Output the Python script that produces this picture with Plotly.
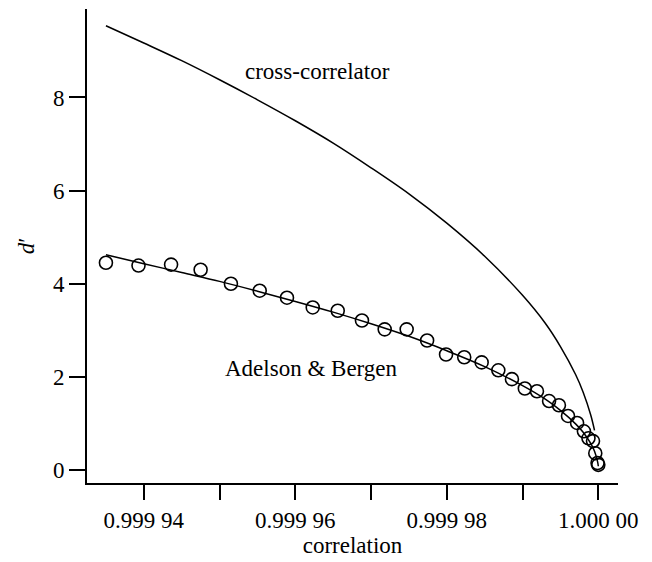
import plotly.graph_objects as go

# cross-correlator curve
cc_r = [0.999935, 0.99994, 0.999945, 0.99995, 0.999955, 0.99996, 0.999965, 0.99997,
        0.999975, 0.99998, 0.999985, 0.99999, 0.999993, 0.999995, 0.999997, 0.999998,
        0.999999, 0.9999995]
cc_d = [9.54, 9.17, 8.79, 8.38, 7.95, 7.50, 7.02, 6.49,
        5.93, 5.30, 4.59, 3.75, 3.15, 2.65, 2.05, 1.67,
        1.18, 0.85]

# Adelson & Bergen fitted curve
ab_r = [0.999935, 0.99994, 0.999945, 0.99995, 0.999955, 0.99996, 0.999965, 0.99997,
        0.999975, 0.99998, 0.999985, 0.99999, 0.999993, 0.999995, 0.999997, 0.999998,
        0.999999, 0.9999995, 0.9999999, 1.0]
ab_d = [4.62, 4.43, 4.24, 4.05, 3.84, 3.62, 3.39, 3.14,
        2.87, 2.56, 2.22, 1.81, 1.52, 1.28, 0.99, 0.81,
        0.57, 0.40, 0.18, 0.08]

# Observed points (circles)
pt_r = [0.999935, 0.9999393, 0.9999436, 0.9999475, 0.9999515, 0.9999553, 0.9999589,
        0.9999623, 0.9999656, 0.9999688, 0.9999718, 0.9999747, 0.9999774, 0.9999799,
        0.9999823, 0.9999846, 0.9999868, 0.9999886, 0.9999903, 0.9999919, 0.9999935,
        0.9999948, 0.999996, 0.9999972, 0.9999981, 0.9999987, 0.9999993, 0.9999996,
        0.9999999, 1.0]
pt_d = [4.45, 4.39, 4.41, 4.30, 4.00, 3.85, 3.70,
        3.49, 3.42, 3.21, 3.02, 3.02, 2.78, 2.48,
        2.42, 2.31, 2.14, 1.95, 1.75, 1.69, 1.48,
        1.39, 1.16, 1.01, 0.83, 0.68, 0.62, 0.36,
        0.15, 0.11]

x_tickvals = [0.99994, 0.99995, 0.99996, 0.99997, 0.99998, 0.99999, 1.0]
x_ticktext = ["0.999 94", "", "0.999 96", "", "0.999 98", "", "1.000 00"]
y_tickvals = [0, 2, 4, 6, 8]

FONT = "Liberation Serif, Times New Roman, serif"
F = dict(family=FONT, size=23, color="black")

fig = go.Figure()
fig.add_trace(go.Scatter(x=cc_r, y=cc_d, mode="lines",
                         line=dict(color="black", width=1.5, shape="spline"),
                         showlegend=False))
fig.add_trace(go.Scatter(x=ab_r, y=ab_d, mode="lines",
                         line=dict(color="black", width=1.5, shape="spline"),
                         showlegend=False))
fig.add_trace(go.Scatter(x=pt_r, y=pt_d, mode="markers",
                         marker=dict(symbol="circle-open", size=13,
                                     color="black", line=dict(width=1.6, color="black")),
                         showlegend=False))

fig.add_annotation(x=0.9999629, y=8.56, text="cross-correlator", showarrow=False, font=F)
fig.add_annotation(x=0.9999622, y=2.18, text="Adelson &amp; Bergen", showarrow=False, font=F)

fig.update_layout(
    width=652, height=562,
    margin=dict(l=87, r=34, t=9, b=77),
    paper_bgcolor="white", plot_bgcolor="white",
    font=F,
    xaxis=dict(range=[0.9999325, 1.0000026], tickvals=x_tickvals, ticktext=x_ticktext,
               showline=True, linecolor="black", linewidth=2, ticks="outside",
               ticklen=15, tickwidth=1.5, tickcolor="black", showgrid=False,
               zeroline=False, tickfont=F,
               title=dict(text="correlation", standoff=4, font=F)),
    yaxis=dict(range=[-0.28, 9.9], tickvals=y_tickvals,
               showline=True, linecolor="black", linewidth=2, ticks="outside",
               ticklen=16, tickwidth=1.5, tickcolor="black", showgrid=False,
               zeroline=False, tickfont=F,
               title=dict(text="<i>d</i>′", standoff=12, font=F)),
)

fig.write_html("out.html")
